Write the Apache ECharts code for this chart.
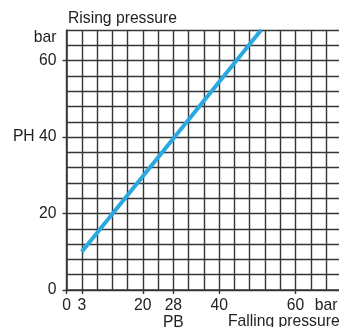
<!DOCTYPE html>
<html>
<head>
<meta charset="utf-8">
<script src="https://cdn.jsdelivr.net/npm/echarts@6/dist/echarts.min.js"></script>
<style>
html,body{margin:0;padding:0;background:#fff;}
#c{width:339px;height:327px;}
</style>
</head>
<body>
<div id="c"></div>
<script>
// Data
var lineX = [4, 51];
var lineY = [10, 68];
var xTickValues = [0, 4, 20, 28, 40, 60];
var xLabelValues = [0, 4, 20, 28, 40, 60, 68];
var xLabelTexts = ['0', '3', '20', '28\nPB', '40', '60', 'bar'];
var yTickValues = [0, 20, 40, 60];
var yLabelValues = [0, 20, 40, 60, 66];
var yLabelTexts = ['0', '20', 'PH 40', '60', 'bar'];
var titleTop = 'Rising pressure';
var titleBottom = 'Falling pressure';

var FONT = "'Liberation Sans', Arial, Helvetica, sans-serif";
var FS = 15.7;
var TXT = '#222';
var GRIDC = '#363636';

var chart = echarts.init(document.getElementById('c'), null, {renderer: 'canvas'});
var lineData = lineX.map(function (x, i) { return [x, lineY[i]]; });

function lookup(vals, texts) {
  return function (v) {
    for (var i = 0; i < vals.length; i++) if (Math.abs(vals[i] - v) < 1e-6) return texts[i];
    return '';
  };
}

chart.setOption({
  animation: false,
  backgroundColor: '#fff',
  grid: {left: 66.5, top: 30, right: -2.3, bottom: 37, containLabel: false, outerBoundsMode: 'none'},
  xAxis: [
    {
      type: 'value', min: 0, max: 72, interval: 4, position: 'bottom',
      axisLine: {show: true, lineStyle: {color: GRIDC, width: 1.6}},
      axisTick: {show: false}, axisLabel: {show: false},
      splitLine: {show: true, lineStyle: {color: GRIDC, width: 1.4}}
    },
    {
      type: 'value', min: 0, max: 72, position: 'bottom',
      axisLine: {show: false},
      axisTick: {show: true, customValues: xTickValues, length: 4, lineStyle: {color: GRIDC, width: 1.4}},
      axisLabel: {show: true, customValues: xLabelValues, formatter: lookup(xLabelValues, xLabelTexts),
        margin: 7, color: TXT, fontSize: FS, fontFamily: FONT, lineHeight: 17, hideOverlap: false},
      splitLine: {show: false}
    }
  ],
  yAxis: [
    {
      type: 'value', min: 0, max: 68, interval: 4, position: 'left',
      axisLine: {show: true, lineStyle: {color: GRIDC, width: 1.6}},
      axisTick: {show: false}, axisLabel: {show: false},
      splitLine: {show: true, lineStyle: {color: GRIDC, width: 1.4}}
    },
    {
      type: 'value', min: 0, max: 68, position: 'left',
      axisLine: {show: false},
      axisTick: {show: true, customValues: yTickValues, length: 4, lineStyle: {color: GRIDC, width: 1.4}},
      axisLabel: {show: true, customValues: yLabelValues, formatter: lookup(yLabelValues, yLabelTexts),
        margin: 10, color: TXT, fontSize: FS, fontFamily: FONT, hideOverlap: false},
      splitLine: {show: false}
    }
  ],
  series: [{
    type: 'line', xAxisIndex: 0, yAxisIndex: 0,
    data: lineData, showSymbol: false, symbol: 'none',
    lineStyle: {color: '#2aa8e0', width: 4},
    silent: true, z: 5
  }],
  graphic: [
    {type: 'text', left: 68, top: 10.5, style: {text: titleTop, fontSize: FS, fontFamily: FONT, fill: TXT}},
    {type: 'text', left: 228, top: 313.5, style: {text: titleBottom, fontSize: FS, fontFamily: FONT, fill: TXT}}
  ]
});
</script>
</body>
</html>
